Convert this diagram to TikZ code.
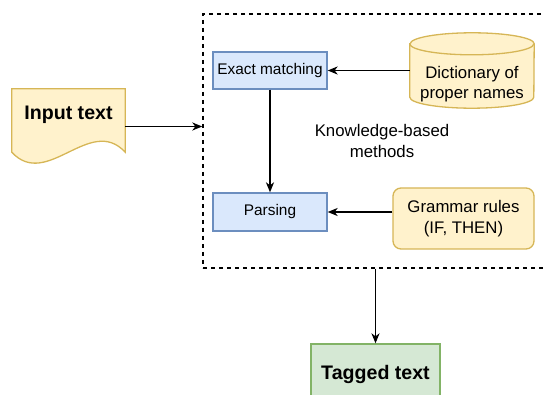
\documentclass[tikz,border=0pt]{standalone}
\usepackage{fontspec}
\setmainfont{Liberation Sans}
\usetikzlibrary{arrows.meta}

\definecolor{blueFill}{HTML}{DAE8FC}
\definecolor{blueLine}{HTML}{6C8EBF}
\definecolor{yellowFill}{HTML}{FFF2CC}
\definecolor{yellowLine}{HTML}{D6B656}
\definecolor{greenFill}{HTML}{D5E8D4}
\definecolor{greenLine}{HTML}{82B366}

\begin{document}
\begin{tikzpicture}[x=1pt,y=-1pt,
  flow/.style={-{Stealth[length=10pt,width=8pt,inset=3pt]}, line width=1.5pt},
  method/.style={draw=blueLine, fill=blueFill, line width=1.3pt, minimum width=114pt, minimum height=37pt, inner sep=0pt, font=\fontsize{15.4}{18}\selectfont},
  source/.style={draw=yellowLine, fill=yellowFill, line width=1.3pt},
  plain/.style={align=center, font=\fontsize{16.8}{20.5}\selectfont},
  heavy/.style={font=\fontsize{19.6}{23}\selectfont\bfseries}]
\def\capry{11pt}
\def\wave{12pt}

\clip (0,0) rectangle (543,395);

% Container
\node[draw, dashed, dash pattern=on 4pt off 4pt, line width=1.4pt, minimum width=358pt, minimum height=254pt, plain] (kb) at (382,141) {Knowledge-based\\methods};

% Methods
\node[method] (exact) at (270,70.5) {Exact matching};
\node[method, minimum height=38pt] (parse) at (270,212) {Parsing};

% Knowledge sources
\node[minimum width=124pt, minimum height=75pt] (dict) at (472,70.5) {};
\draw[source] ([yshift=-\capry]dict.north west) -- ([yshift=\capry]dict.south west)
  arc[start angle=180, end angle=360, x radius=62pt, y radius=\capry]
  -- ([yshift=-\capry]dict.north east)
  arc[start angle=0, end angle=180, x radius=62pt, y radius=\capry] -- cycle;
\draw[source] ([yshift=-\capry]dict.north west) arc[start angle=180, end angle=360, x radius=62pt, y radius=\capry];
\node[plain] (dictlbl) at ([yshift=-13.5pt]dict.center) {Dictionary of\\proper names};

\node[source, rounded corners=8pt, minimum width=141pt, minimum height=61pt, plain] (grammar) at (463.5,218.5) {Grammar rules\\(IF, THEN)};

% Input and output
\node[minimum width=113pt, minimum height=75pt] (input) at (68.5,126.5) {};
\draw[source] (input.north west) -- (input.north east) -- ([yshift=\wave]input.south east)
  .. controls ([xshift=-35pt, yshift=50pt]input.south east) and ([xshift=35pt, yshift=-26pt]input.south west) .. ([yshift=\wave]input.south west) -- cycle;
\node[heavy] (inputlbl) at ([yshift=12pt]input.center) {Input text};

\node[draw=greenLine, fill=greenFill, line width=1.3pt, minimum width=129pt, minimum height=60pt, heavy] (tagged) at (375.5,374) {Tagged text};

% Arrows
\draw[flow] (input.east) -- (input.east -| kb.west);
\draw[flow] (dict.west) -- (exact.east);
\draw[flow] (exact.south) -- (parse.north);
\draw[flow] (grammar.west |- parse.east) -- (parse.east);
\draw[flow] (tagged.north |- kb.south) -- (tagged.north);

\end{tikzpicture}
\end{document}
